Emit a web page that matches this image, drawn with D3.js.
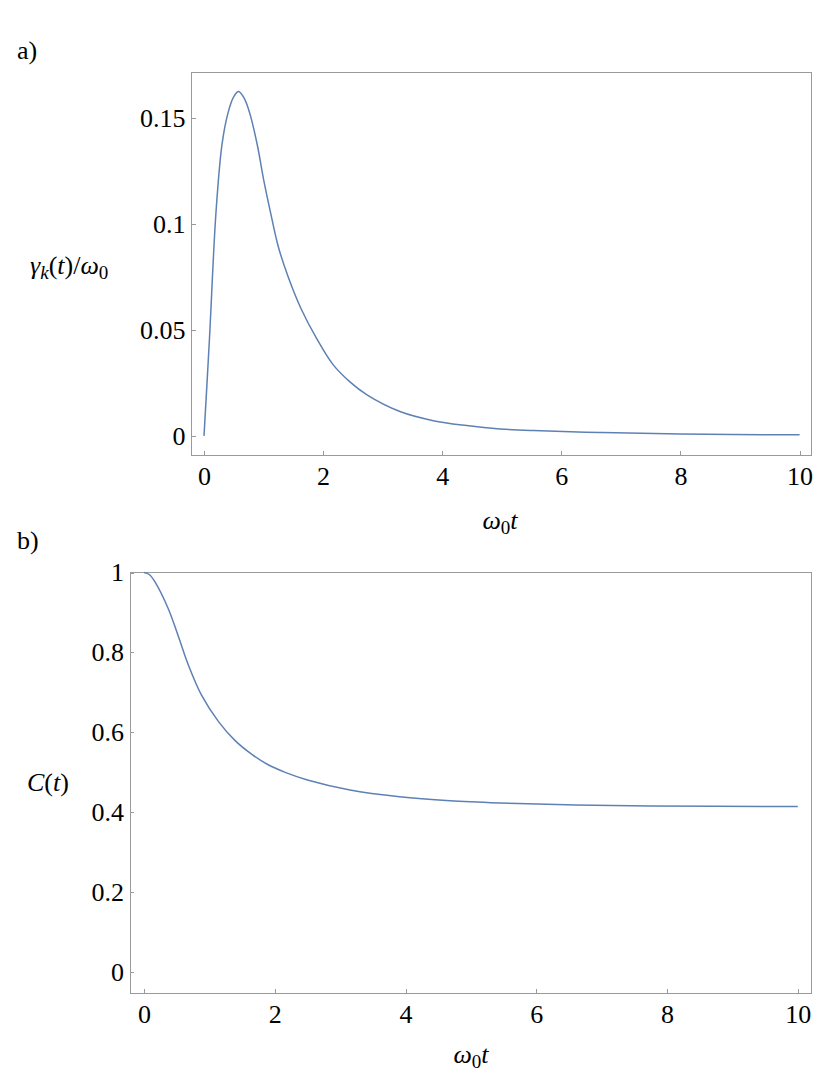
<!DOCTYPE html>
<meta charset="utf-8">
<title>gamma and C</title>
<body style="margin:0">
<script src="https://cdn.jsdelivr.net/npm/d3@7"></script>
<script>

    // Data
    var gamma_t = [0, 0.09, 0.2, 0.3, 0.4, 0.5, 0.58, 0.68, 0.77, 0.9, 1.0, 1.12, 1.25, 1.42, 1.63, 1.89, 2.17, 2.45, 2.73, 3.29, 3.85, 4.41, 4.97, 5.53, 6.65, 8, 10];
    var gamma_v = [0, 0.045, 0.105, 0.137, 0.152, 0.16, 0.1624, 0.159, 0.152, 0.1365, 0.121, 0.105, 0.089, 0.0745, 0.06, 0.046, 0.0335, 0.0255, 0.0195, 0.0115, 0.0072, 0.0049, 0.0033, 0.0025, 0.0016, 0.0009, 0.0005];

    var c_t = [0, 0.08, 0.17, 0.37, 0.52, 0.68, 0.88, 1.14, 1.39, 1.65, 1.9, 2.16, 2.5, 3.15, 3.91, 4.68, 5.44, 6.46, 7.74, 10];
    var c_v = [1, 0.995, 0.976, 0.91, 0.843, 0.768, 0.693, 0.627, 0.58, 0.545, 0.519, 0.5, 0.481, 0.456, 0.439, 0.429, 0.4235, 0.419, 0.416, 0.4145];

    var x_ticks = [0, 2, 4, 6, 8, 10];
    var gamma_ticks = [0, 0.05, 0.1, 0.15];
    var gamma_tick_labels = ["0", "0.05", "0.1", "0.15"];
    var c_ticks = [0, 0.2, 0.4, 0.6, 0.8, 1];
    var c_tick_labels = ["0", "0.2", "0.4", "0.6", "0.8", "1"];

    var serif = "'Liberation Serif'",
        fsize = 26,
        fsub = 19,
        gray = "#9a9a9a";

    var svg = d3.select("body").append("svg")
        .attr("width", 830)
        .attr("height", 1085);

    function panel(opts) {
        var x = d3.scaleLinear().domain(opts.xdom).range([opts.left, opts.right]);
        var y = d3.scaleLinear().domain(opts.ydom).range([opts.bottom, opts.top]);

        svg.append("rect")
            .attr("x", opts.left)
            .attr("y", opts.top)
            .attr("width", opts.right - opts.left)
            .attr("height", opts.bottom - opts.top)
            .attr("fill", "none")
            .attr("stroke", gray)
            .attr("shape-rendering", "crispEdges");

        var xa = svg.append("g")
            .attr("transform", "translate(0," + opts.bottom + ")")
            .call(d3.axisBottom(x).tickValues(x_ticks).tickSize(-4).tickPadding(12).tickFormat(d3.format("d")));

        var ya = svg.append("g")
            .attr("transform", "translate(" + opts.left + ",0)")
            .call(d3.axisLeft(y).tickValues(opts.yticks).tickSize(-4).tickPadding(6)
                .tickFormat(function(d, i) { return opts.ylabels[i]; }));

        [xa, ya].forEach(function(g) {
            g.select(".domain").remove();
            g.attr("font-family", serif).attr("font-size", fsize);
            g.selectAll("line").attr("stroke", gray).attr("shape-rendering", "crispEdges");
            g.selectAll("text")
                .attr("fill", "#000")
                .attr("font-family", serif)
                .attr("font-size", fsize);
        });

        var line = d3.line()
            .x(function(d) { return x(d[0]); })
            .y(function(d) { return y(d[1]); })
            .curve(d3.curveCatmullRom.alpha(0.5));

        svg.append("path")
            .datum(d3.zip(opts.ts, opts.vs))
            .attr("fill", "none")
            .attr("stroke", "#5e81b5")
            .attr("stroke-width", 1.5)
            .attr("d", line);
    }

    panel({
        left: 191.5, right: 811.5, top: 72.5, bottom: 455,
        xdom: [-0.21, 10.2], ydom: [-0.009, 0.1714],
        yticks: gamma_ticks, ylabels: gamma_tick_labels,
        ts: gamma_t, vs: gamma_v
    });

    panel({
        left: 130, right: 811.5, top: 572.5, bottom: 993,
        xdom: [-0.214, 10.21], ydom: [-0.052, 1.0],
        yticks: c_ticks, ylabels: c_tick_labels,
        ts: c_t, vs: c_v
    });

    function label(x, y, anchor) {
        return svg.append("text")
            .attr("x", x).attr("y", y)
            .attr("font-family", serif)
            .attr("font-size", fsize)
            .attr("text-anchor", anchor || "start");
    }

    // Panel letters
    label(17, 59).text("a)");
    label(17, 549).text("b)");

    // y label a: gamma_k(t)/omega_0
    var yl = label(30, 274);
    yl.append("tspan").attr("font-style", "italic").text("γ");
    yl.append("tspan").attr("font-style", "italic").attr("font-size", fsub).attr("dy", 5).text("k");
    yl.append("tspan").attr("dy", -5).text("(");
    yl.append("tspan").attr("font-style", "italic").text("t");
    yl.append("tspan").text(")/");
    yl.append("tspan").attr("font-style", "italic").text("ω");
    yl.append("tspan").attr("font-size", fsub).attr("dy", 5).text("0");

    // y label b: C(t)
    var yb = label(27, 791);
    yb.append("tspan").attr("font-style", "italic").text("C");
    yb.append("tspan").text("(");
    yb.append("tspan").attr("font-style", "italic").text("t");
    yb.append("tspan").text(")");

    // x labels
    function xlabel(cx, cy) {
        var t = label(cx, cy, "middle");
        t.append("tspan").attr("font-style", "italic").text("ω");
        t.append("tspan").attr("font-size", fsub).attr("dy", 5).text("0");
        t.append("tspan").attr("font-style", "italic").attr("dy", -5).text("t");
    }
    xlabel(500, 529);
    xlabel(471, 1063);

</script>
</body>
